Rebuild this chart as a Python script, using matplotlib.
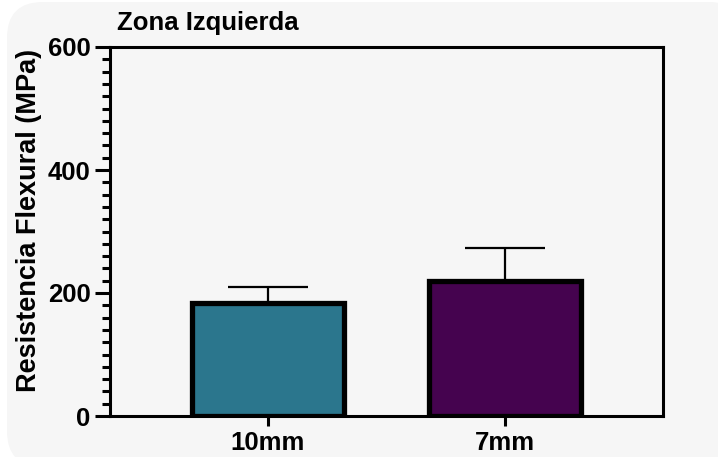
import matplotlib
matplotlib.use("Agg")
import matplotlib.pyplot as plt
from matplotlib.patches import FancyBboxPatch
from matplotlib.ticker import MultipleLocator

categories = ["10mm", "7mm"]
means = [183, 219]
errors = [27, 54]
colors = ["#2b768d", "#45034f"]

plt.rcParams['font.family'] = ['Liberation Sans', 'DejaVu Sans']
plt.rcParams['font.weight'] = 'bold'

W, H = 718, 457
fig = plt.figure(figsize=(W / 100, H / 100), dpi=100)
fig.patch.set_facecolor("white")

bg = FancyBboxPatch((7 / W, -10 / H), (W + 20) / W, (H + 8) / H,
                    boxstyle="round,pad=0,rounding_size=0.05",
                    transform=fig.transFigure, facecolor="#f6f6f6",
                    edgecolor="none", zorder=-10,
                    mutation_aspect=W / H)
fig.patches.append(bg)

ax = fig.add_axes([110 / W, (H - 416) / H, (663 - 110) / W, (416 - 47) / H])
ax.set_facecolor("#f6f6f6")

x = list(range(len(categories)))
ax.errorbar(x, means, yerr=[[0] * len(means), errors], fmt="none",
            ecolor="black", elinewidth=1.6, capsize=29, capthick=1.6, zorder=2)
ax.bar(x, means, width=0.64, color=colors, edgecolor="black", linewidth=3.8, zorder=3)

ax.set_xlim(-0.665, 1.665)
ax.set_ylim(0, 600)
ax.set_xticks(x)
ax.set_xticklabels(categories, fontsize=18.5, fontweight="bold")
ax.yaxis.set_major_locator(MultipleLocator(200))
ax.yaxis.set_minor_locator(MultipleLocator(20))
ax.tick_params(axis="y", which="major", length=10.5, width=2.2, labelsize=18.5, pad=3.5)
ax.tick_params(axis="y", which="minor", length=6, width=2.2)
ax.tick_params(axis="x", which="major", length=7.5, width=2.2, labelsize=18.5, pad=3.5)
for lab in ax.get_yticklabels():
    lab.set_fontweight("bold")
for sp in ax.spines.values():
    sp.set_linewidth(2.2)
    sp.set_color("black")

ax.set_ylabel("Resistencia Flexural (MPa)", fontsize=19.5, fontweight="bold")
ax.yaxis.set_label_coords(-0.123, 0.531)
fig.text(117 / W, 1 - 23 / H, "Zona Izquierda", fontsize=18.5, fontweight="bold",
         ha="left", va="center")

fig.savefig("out.png", dpi=100, facecolor=fig.get_facecolor())
